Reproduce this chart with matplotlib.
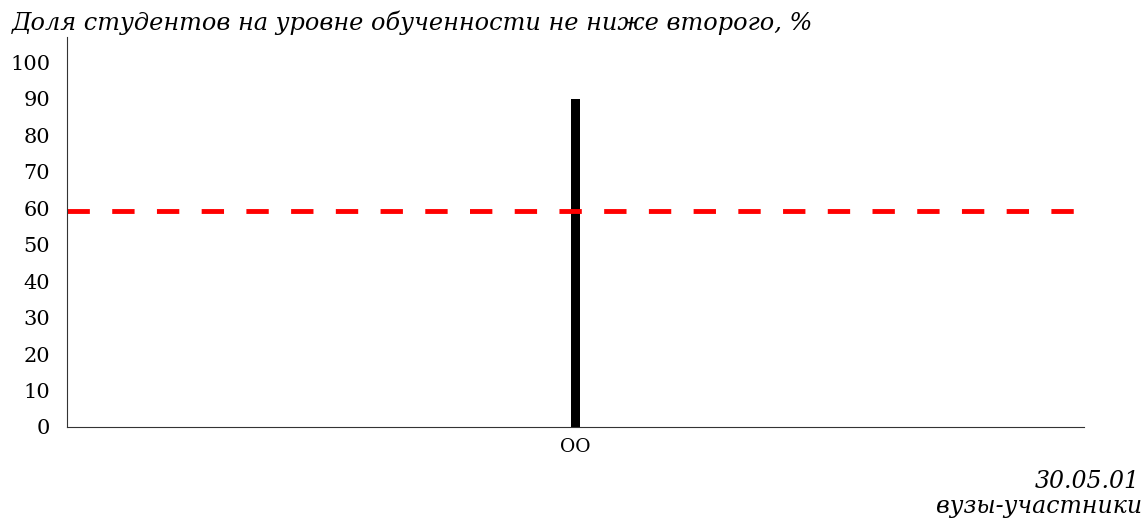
import matplotlib
matplotlib.use("Agg")
import matplotlib.pyplot as plt

categories = ["ОО"]
values = [90]
threshold = 59.2
code = "30.05.01"
group = "вузы-участники"
title = "Доля студентов на уровне обученности не ниже второго, %"

plt.rcParams['font.family'] = 'DejaVu Serif'

fig = plt.figure(figsize=(11.46, 5.19), dpi=100)
ax = fig.add_axes([67/1146, 1 - 427/519, (1084-67)/1146, (427-37)/519])

x = list(range(len(categories)))
ax.bar(x, values, width=0.0095, color='black')
ax.set_xlim(-0.5, 0.5)
ax.set_ylim(0, 107)
ax.axhline(threshold, color='#ff0000', linestyle=(0, (4.6, 4.6)), linewidth=3.5, xmax=0.992)

ax.set_xticks(x)
ax.set_xticklabels(categories, fontsize=13.5)
ax.set_yticks(range(0, 101, 10))
ax.tick_params(axis='y', length=0, labelsize=15, pad=12)
ax.tick_params(axis='x', length=0, pad=8)
for s in ['top', 'right']:
    ax.spines[s].set_visible(False)
ax.spines['left'].set_color('#333333')
ax.spines['bottom'].set_color('#333333')

fig.text(12/1146, 1 - 23/519, title, fontsize=17.3, style='italic', ha='left', va='center')
fig.text(1140/1146, 1 - 482/519, code, fontsize=17, style='italic', ha='right', va='center')
fig.text(1142/1146, 1 - 507/519, group, fontsize=17, style='italic', ha='right', va='center')

fig.savefig("out.png", dpi=100)
